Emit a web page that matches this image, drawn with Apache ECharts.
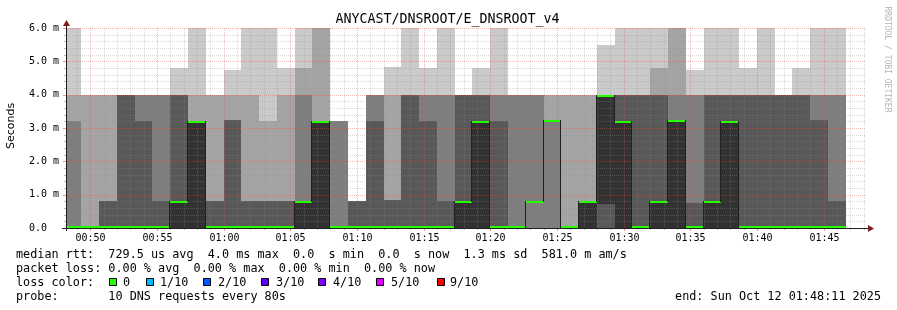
<!DOCTYPE html>
<html><head><meta charset="utf-8">
<script src="https://cdn.jsdelivr.net/npm/echarts@6/dist/echarts.min.js"></script>
<style>html,body{margin:0;padding:0;background:#fff}#c{width:897px;height:310px}</style>
</head><body><div id="c"></div>
<script>
// ---------------- data ----------------
const chartTitle = 'ANYCAST/DNSROOT/E_DNSROOT_v4';
const startTime = 2891;      // 00:48:11 (seconds after 00:00)
const endTime = 6491;        // 01:48:11
const firstStepEnd = 2960;   // 00:49:20
const stepSeconds = 80;
// 10 sorted ping round trip times (ms) per step
const pings = [
  [0,0,0,0,0,0,0,3.2,4.0,6.0],
  [0,0,0,0,0,0,0,0,4.0,4.0],
  [0,0,0,0,0,0,0.8,0.8,4.0,4.0],
  [0,0,0,0,0,0,4.0,4.0,4.0,4.0],
  [0,0,0,0,0,0,3.2,4.0,4.0,4.0],
  [0,0,0,0,0,0,0.8,4.0,4.0,4.0],
  [0,0,0,0,0,0.8,4.0,4.0,4.0,4.8],
  [0,0,0,0,0,3.2,3.2,3.2,4.0,6.0],
  [0,0,0,0,0,0,0.8,0.8,4.0,4.0],
  [0,0,0,0,0,0,3.25,3.25,4.0,4.75],
  [0,0,0,0,0,0,0.8,0.8,4.0,6.0],
  [0,0,0,0,0,0,0.8,0.8,3.2,6.0],
  [0,0,0,0,0,0,0.8,0.8,4.0,4.8],
  [0,0,0,0,0,0.8,0.8,4.0,4.8,6.0],
  [0,0,0,0,0,3.2,3.2,3.2,6.0,6.0],
  [0,0,0,0,0,0,0,3.2,3.2,3.2],
  [0,0,0,0,0,0,0.8,0.8,0.8,0.8],
  [0,0,0,0,0,0,3.2,4.0,4.0,4.0],
  [0,0,0,0,0,0,0.84,0.84,4.0,4.84],
  [0,0,0,0,0,0,4.0,4.0,4.0,6.0],
  [0,0,0,0,0,0,3.2,4.0,4.0,4.8],
  [0,0,0,0,0,0,0.8,4.0,4.0,6.0],
  [0,0,0,0,0,0.8,4.0,4.0,4.0,4.0],
  [0,0,0,0,0,3.2,4.0,4.0,4.0,4.8],
  [0,0,0,0,0,0,3.2,4.0,4.0,6.0],
  [0,0,0,0,0,0,0,4.0,4.0,4.0],
  [0,0,0,0.8,0.8,0.8,0.8,4.0,4.0,4.0],
  [0,0,0,3.25,3.25,3.25,3.25,3.25,4.0,4.0],
  [0,0,0,0,0,0,0,0,4.0,4.0],
  [0,0,0,0,0,0.8,0.8,0.8,4.0,4.0],
  [0,0,0,0,0.72,4.0,4.0,4.0,4.0,5.5],
  [0,0,0,0,0,3.2,4.0,4.0,4.0,6.0],
  [0,0,0,0,0,0,4.0,4.0,4.0,6.0],
  [0,0,0,0,0,0.8,4.0,4.0,4.8,6.0],
  [0,0,0,0,0,3.25,3.25,4.0,6.0,6.0],
  [0,0,0,0,0,0,0.75,4.0,4.0,4.75],
  [0,0,0,0,0,0.8,4.0,4.0,4.0,6.0],
  [0,0,0,0,0,3.2,4.0,4.0,4.0,6.0],
  [0,0,0,0,0,0,4.0,4.0,4.0,4.8],
  [0,0,0,0,0,0,4.0,4.0,4.0,6.0],
  [0,0,0,0,0,0,4.0,4.0,4.0,4.0],
  [0,0,0,0,0,0,4.0,4.0,4.0,4.8],
  [0,0,0,0,0,0,3.25,4.0,4.0,6.0],
  [0,0,0,0,0,0,0.8,4.0,4.0,6.0]
];
const xTickTimes  = [3000,3300,3600,3900,4200,4500,4800,5100,5400,5700,6000,6300];
const xTickLabels = ['00:50','00:55','01:00','01:05','01:10','01:15','01:20','01:25','01:30','01:35','01:40','01:45'];
const yTickValues = [0,1,2,3,4,5,6];
const yTickLabels = ['0.0','1.0 m','2.0 m','3.0 m','4.0 m','5.0 m','6.0 m'];
const smokeColors = ['#cacaca','#a4a4a4','#7e7e7e','#585858','#323232'];
const lossColors = ['#26ff00','#00b8ff','#0059ff','#5e00ff','#7e00ff','#dd00ff','#ff0000'];
const lossLabels = ['0','1/10','2/10','3/10','4/10','5/10','9/10'];
const legendLines = [
  'median rtt:  729.5 us avg  4.0 ms max  0.0  s min  0.0  s now  1.3 ms sd  581.0 m am/s',
  'packet loss: 0.00 % avg  0.00 % max  0.00 % min  0.00 % now',
  'loss color:',
  'probe:       10 DNS requests every 80s'
];
const endText = 'end: Sun Oct 12 01:48:11 2025';
const watermark = 'RRDTOOL / TOBI OETIKER';

// ---------------- helpers ----------------
const MONO = "'DejaVu Sans Mono', monospace";
const barStart = i => i === 0 ? startTime : firstStepEnd + (i - 1) * stepSeconds;
const barEnd = i => firstStepEnd + i * stepSeconds;
const medians = pings.map(p => p[5]);
const gridCol = 'rgba(143,143,143,0.32)';
const mgridCol = 'rgba(222,79,79,0.4)';
const tickCol = 'rgba(143,143,143,0.6)';
const mtickCol = 'rgba(222,79,79,0.6)';

const bandData = pings.map((p, i) => [barStart(i), barEnd(i), 0, 6]);

function renderBands(params, api) {
  const i = params.dataIndex;
  const p = pings[i];
  const children = [];
  for (let k = 0; k < 5; k++) {
    const lo = p[k], hi = p[9 - k];
    if (hi <= lo) continue;
    const a = api.coord([api.value(0), hi]);
    const b = api.coord([api.value(1), lo]);
    const x0 = Math.round(a[0]), x1 = Math.round(b[0]);
    const y0 = Math.round(a[1]), y1 = Math.round(b[1]);
    children.push({type:'rect', shape:{x:x0, y:y0, width:x1 - x0, height:y1 - y0}, style:{fill:smokeColors[k]}});
  }
  return {type:'group', children};
}

function renderMedian(params, api) {
  const i = params.dataIndex;
  const children = [];
  const bottom = Math.round(api.coord([startTime, 0])[1]);
  const a = api.coord([api.value(0), medians[i]]);
  const b = api.coord([api.value(1), medians[i]]);
  const x0 = Math.round(a[0]), x1 = Math.round(b[0]);
  if (i > 0 && medians[i - 1] !== medians[i]) {
    const yp = Math.round(api.coord([api.value(0), medians[i - 1]])[1]);
    const yc = Math.round(a[1]);
    children.push({type:'line', shape:{x1:x0 - 0.5, y1:Math.min(yp, yc), x2:x0 - 0.5, y2:Math.max(yp, yc) + 1},
      style:{stroke:'#202020', lineWidth:1}});
  }
  const yy = Math.min(Math.round(a[1]), bottom - 2);
  children.push({type:'rect', shape:{x:x0, y:yy, width:x1 - x0, height:2}, style:{fill:lossColors[0]}});
  return {type:'group', children};
}

function renderOverlay(params, api) {
  const children = [];
  const o = api.coord([startTime, 0]);
  const e = api.coord([endTime, 6]);
  const X0 = Math.round(o[0]), Y0 = Math.round(o[1]);
  const X1 = Math.round(e[0]), Y1 = Math.round(e[1]);
  // horizontal grid (every 0.2 ms, major every 1 ms)
  for (let k = 1; k <= 30; k++) {
    const v = k / 5;
    const y = Math.round(api.coord([startTime, v])[1]) + 0.5;
    const major = k % 5 === 0;
    children.push({type:'line', shape:{x1:X0, y1:y, x2:X1, y2:y},
      style:{stroke: major ? mgridCol : gridCol, lineWidth:1, lineDash:[1,1]}});
    children.push({type:'line', shape:{x1:X0 - (major ? 3 : 2), y1:y, x2:X0, y2:y},
      style:{stroke: major ? mtickCol : tickCol, lineWidth:1}});
  }
  // vertical grid (every minute, major every 5 minutes)
  for (let t = Math.ceil(startTime / 60) * 60; t <= endTime; t += 60) {
    const x = Math.round(api.coord([t, 0])[0]) + 0.5;
    const major = t % 300 === 0;
    children.push({type:'line', shape:{x1:x, y1:Y1, x2:x, y2:Y0},
      style:{stroke: major ? mgridCol : gridCol, lineWidth:1, lineDash:[1,1]}});
    children.push({type:'line', shape:{x1:x, y1:Y0, x2:x, y2:Y0 + (major ? 3 : 2)},
      style:{stroke: major ? mtickCol : tickCol, lineWidth:1}});
  }
  return {type:'group', children};
}

function renderAxes(params, api) {
  const children = [];
  const o = api.coord([startTime, 0]);
  const e = api.coord([endTime, 6]);
  const X0 = Math.round(o[0]), Y0 = Math.round(o[1]);
  const X1 = Math.round(e[0]), Y1 = Math.round(e[1]);
  children.push({type:'line', shape:{x1:X0 - 4, y1:Y0 + 0.5, x2:X1 + 3, y2:Y0 + 0.5}, style:{stroke:'#1f1f1f', lineWidth:1}});
  children.push({type:'line', shape:{x1:X0 + 0.5, y1:Y0 + 3, x2:X0 + 0.5, y2:Y1 - 3}, style:{stroke:'#1f1f1f', lineWidth:1}});
  children.push({type:'polygon', shape:{points:[[X1 + 2, Y0 - 3], [X1 + 2, Y0 + 4], [X1 + 8, Y0 + 0.5]]}, style:{fill:'#801f1f'}});
  children.push({type:'polygon', shape:{points:[[X0 - 3, Y1 - 2], [X0 + 4, Y1 - 2], [X0 + 0.5, Y1 - 8]]}, style:{fill:'#801f1f'}});
  xTickTimes.forEach((t, k) => {
    const p = api.coord([t, 0]);
    children.push({type:'text', x:Math.round(p[0]) + 0.5, y:Y0 + 5,
      style:{text:xTickLabels[k], font:'10px ' + MONO, fill:'#000', align:'center', verticalAlign:'top'}});
  });
  return {type:'group', children};
}

// ---------------- legend graphics ----------------
const graphics = [];
graphics.push({type:'text', x:447.5, y:20, style:{text:chartTitle, font:'13.3px ' + MONO, fill:'#000', align:'center', verticalAlign:'middle'}});
graphics.push({type:'text', x:887, y:59.5, rotation:-Math.PI / 2, style:{text:watermark, font:'8px ' + MONO, fill:'#b4b4b4', align:'center', verticalAlign:'middle'}});
graphics.push({type:'text', x:11, y:126, rotation:Math.PI / 2, style:{text:'Seconds', font:'11px ' + "'DejaVu Sans', sans-serif", fill:'#000', align:'center', verticalAlign:'middle'}});
const lineY = [254.5, 268.5, 282.5, 296.5];
legendLines.forEach((s, k) => {
  graphics.push({type:'text', x:16, y:lineY[k], style:{text:s, font:'11.8px ' + MONO, fill:'#000', align:'left', verticalAlign:'middle'}});
});
const boxX = [109, 146, 203, 261, 318, 376, 437];
const boxTextX = [123, 160, 218, 276, 333, 391, 450];
lossColors.forEach((c, k) => {
  graphics.push({type:'rect', shape:{x:boxX[k] + 0.5, y:278.5, width:7, height:7}, style:{fill:c, stroke:'#000', lineWidth:1}});
  graphics.push({type:'text', x:boxTextX[k], y:lineY[2], style:{text:lossLabels[k], font:'11.8px ' + MONO, fill:'#000', align:'left', verticalAlign:'middle'}});
});
graphics.push({type:'text', x:881, y:lineY[3], style:{text:endText, font:'11.8px ' + MONO, fill:'#000', align:'right', verticalAlign:'middle'}});

// ---------------- chart ----------------
const chart = echarts.init(document.getElementById('c'), null, {renderer:'canvas', width:897, height:310, devicePixelRatio:1});
chart.setOption({
  animation:false,
  backgroundColor:'#ffffff',
  grid:{left:66, right:31, top:28, bottom:82, containLabel:false},
  xAxis:{type:'value', min:startTime, max:endTime, show:false},
  yAxis:{type:'value', min:0, max:6, interval:1,
    axisLine:{show:false}, axisTick:{show:false}, splitLine:{show:false},
    axisLabel:{align:'left', margin:37, fontFamily:MONO, fontSize:10, color:'#000',
      formatter:v => yTickLabels[yTickValues.indexOf(v)] || ''}},
  series:[
    {type:'custom', name:'smoke', coordinateSystem:'cartesian2d', data:bandData, encode:{x:[0,1], y:[2,3]}, renderItem:renderBands, z:2, silent:true},
    {type:'custom', name:'grid', coordinateSystem:'cartesian2d', data:[[startTime, 0]], renderItem:renderOverlay, z:3, silent:true},
    {type:'custom', name:'median', coordinateSystem:'cartesian2d', data:bandData, encode:{x:[0,1], y:[2,3]}, renderItem:renderMedian, z:4, silent:true},
    {type:'custom', name:'axes', coordinateSystem:'cartesian2d', data:[[startTime, 0]], renderItem:renderAxes, z:5, silent:true, clip:false}
  ],
  graphic:graphics
});
</script></body></html>
